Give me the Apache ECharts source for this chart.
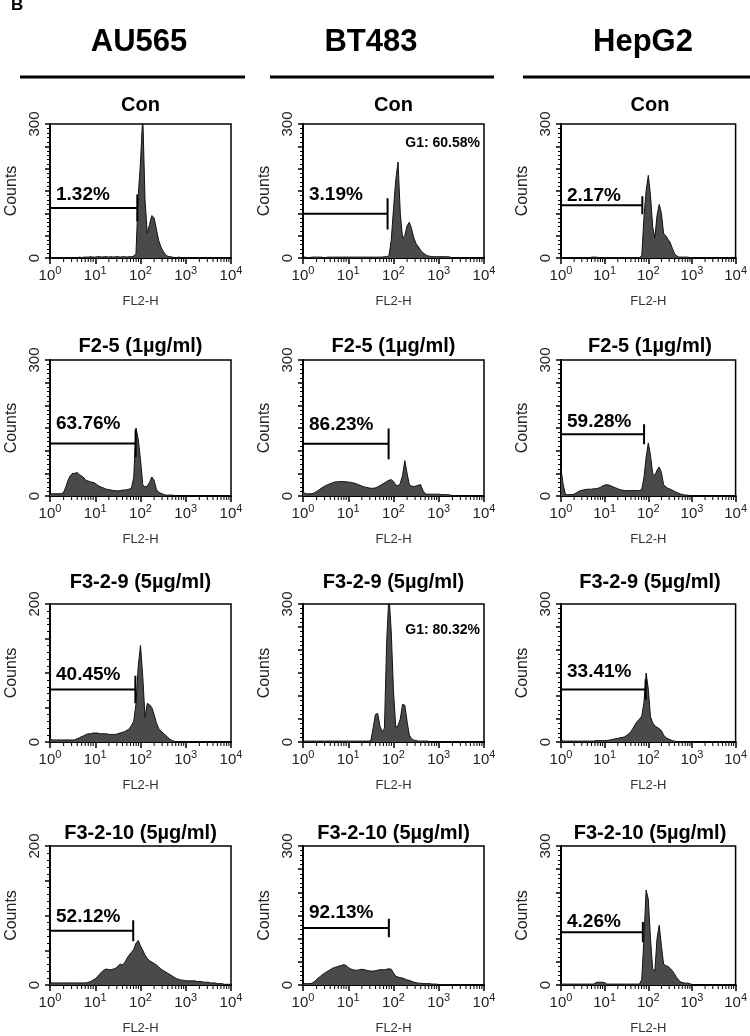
<!DOCTYPE html>
<html><head><meta charset="utf-8">
<script src="https://cdn.jsdelivr.net/npm/echarts@6/dist/echarts.min.js"></script>
<style>html,body{margin:0;padding:0;background:#fff}#c{width:750px;height:1036px}</style>
</head><body><div id="c"></div>
<script>
// ---------- DATA ----------
const cellLines = ['AU565', 'BT483', 'HepG2'];
const treatments = ['Con', 'F2-5 (1µg/ml)', 'F3-2-9 (5µg/ml)', 'F3-2-10 (5µg/ml)'];
const xTickValues = [1, 10, 100, 1000, 10000];
// FL2-H channel centres (log spaced, 20 per decade)
const FL2_BINS = [
  1, 1.122, 1.259, 1.413, 1.585, 1.778, 1.995, 2.239, 2.512, 2.818, 3.162, 3.548, 3.981, 4.467, 5.012, 5.623, 6.31, 7.079, 7.943, 8.913,
  10, 11.22, 12.59, 14.13, 15.85, 17.78, 19.95, 22.39, 25.12, 28.18, 31.62, 35.48, 39.81, 44.67, 50.12, 56.23, 63.1, 70.79, 79.43, 89.13,
  100, 112.2, 125.9, 141.3, 158.5, 177.8, 199.5, 223.9, 251.2, 281.8, 316.2, 354.8, 398.1, 446.7, 501.2, 562.3, 631, 707.9, 794.3, 891.3,
  1000, 1122, 1259, 1413, 1585, 1778, 1995, 2239, 2512, 2818, 3162, 3548, 3981, 4467, 5012, 5623, 6310, 7079, 7943, 8913,
  10000];
// y-axis max per panel (row-major)
const countsMax = [300, 300, 300, 300, 300, 300, 200, 300, 300, 200, 300, 300];

const au565Con = [
  0,0,0,0,0,0,0,0,0,0,0,0,0,2,1,2,2,2,3,2,
  2,3,3,2,3,3,2,3,2,3,3,2,3,3,2,3,3,4,10,140,
  215,320,130,55,75,95,90,65,40,25,15,8,4,3,2,1,1,2,1,0,
  0,0,0,0,0,0,0,0,0,0,0,0,0,0,0,0,0,0,0,0,
  0];
const bt483Con = [
  2,2,1,1,2,2,2,2,2,1,1,2,2,2,2,2,2,2,2,2,
  2,2,2,2,2,2,2,2,2,2,2,2,2,2,2,2,3,3,5,40,
  110,175,215,100,45,50,72,80,65,45,32,25,17,12,8,5,4,3,3,3,
  3,3,3,3,3,2,0,0,0,0,0,0,0,0,0,0,0,0,0,0,
  0];
const hepg2Con = [
  0,0,0,0,0,0,0,0,0,0,0,0,0,0,2,2,2,1,1,1,
  1,1,1,1,1,1,1,1,1,1,1,1,1,1,1,1,1,5,90,150,
  185,140,70,45,95,120,100,55,50,42,35,22,10,5,2,2,2,2,2,1,
  1,0,0,0,0,0,0,0,0,0,0,0,0,0,0,0,0,0,0,0,
  0];
const au565F25 = [
  5,5,5,5,5,5,8,20,35,45,50,50,52,47,44,40,34,33,31,30,
  28,24,21,19,17,15,14,13,12,12,11,12,13,13,14,15,18,40,150,125,
  80,25,20,22,30,42,35,15,8,6,4,2,2,2,2,1,0,0,0,0,
  0,0,0,0,0,0,0,0,0,0,0,0,0,0,0,0,0,0,0,0,
  0];
const bt483F25 = [
  10,5,5,5,5,7,10,13,17,20,23,25,27,29,31,31,32,32,32,31,
  31,30,29,28,26,24,22,20,19,18,17,17,18,20,23,26,29,32,35,36,
  32,24,22,28,45,78,50,25,22,21,22,24,25,12,5,4,4,4,4,4,
  4,3,3,3,3,2,1,1,0,0,0,0,0,0,0,0,0,0,0,0,
  0];
const hepg2F25 = [
  60,25,4,3,3,3,4,7,10,12,13,14,15,15,15,16,16,17,19,22,
  24,25,24,22,20,18,16,14,13,12,12,12,12,12,12,12,12,15,40,85,
  117,90,50,45,57,64,52,25,20,17,15,13,10,8,6,4,3,2,2,1,
  0,0,0,0,0,0,0,0,0,0,0,0,0,0,0,0,0,0,0,0,
  0];
const au565F329 = [
  5,3,3,3,3,3,3,3,3,3,3,3,5,6,8,9,11,12,12,13,
  13,13,12,12,12,12,11,11,11,11,12,13,14,15,17,19,24,30,55,110,
  140,95,36,56,54,50,40,28,20,16,13,10,7,4,2,1,0,0,0,0,
  0,0,0,0,0,0,0,0,0,0,0,0,0,0,0,0,0,0,0,0,
  0];
const bt483F329 = [
  2,2,2,2,2,2,2,2,2,2,2,2,2,2,2,2,2,2,2,2,
  2,2,2,2,2,2,2,2,2,2,3,30,60,62,35,22,30,220,320,240,
  110,32,36,50,82,80,45,15,7,4,3,2,2,2,2,2,1,0,0,0,
  0,0,0,0,0,0,0,0,0,0,0,0,0,0,0,0,0,0,0,0,
  0];
const hepg2F329 = [
  5,2,2,2,2,2,2,2,2,2,2,2,2,2,2,2,3,3,3,3,
  3,3,4,5,6,7,8,9,10,11,14,18,22,30,38,45,50,56,85,150,
  115,55,42,35,32,29,25,15,10,7,5,3,2,1,0,0,0,0,0,0,
  0,0,0,0,0,0,0,0,0,0,0,0,0,0,0,0,0,0,0,0,
  0];
const au565F3210 = [
  3,3,3,3,3,3,3,3,3,3,3,3,3,3,3,3,3,4,5,7,
  9,12,16,19,22,23,22,22,23,24,27,30,29,32,38,43,47,51,60,64,
  56,50,43,38,35,33,31,29,26,23,21,19,17,15,13,11,9,8,7,7,
  6,6,6,6,6,5,5,5,4,4,4,3,3,3,2,2,2,1,1,1,
  1];
const bt483F3210 = [
  3,3,3,3,4,7,12,16,20,24,27,30,33,36,38,39,41,42,44,42,
  38,35,33,32,32,33,34,33,32,31,30,30,31,32,33,33,33,34,35,34,
  26,19,17,16,15,13,11,10,8,6,5,4,4,3,3,3,3,2,2,2,
  1,1,1,1,1,0,0,0,0,0,0,0,0,0,0,0,0,0,0,0,
  0];
const hepg2F3210 = [
  2,2,2,2,2,2,2,2,2,2,2,2,2,2,2,2,5,6,6,6,
  5,2,2,2,2,2,2,2,2,2,2,2,2,2,2,2,2,12,100,205,
  185,100,35,30,100,129,85,45,42,40,36,31,24,16,10,6,5,4,4,3,
  1,0,0,0,0,0,0,0,0,0,0,0,0,0,0,0,0,0,0,0,
  0];

// gate markers (FL2-H end, count level, tick half-heights); null = no gate
const gateEnd      = [85, 74, 73, 78, 78, 80, 77, null, 87, 69, 79, 75];
const gateCount    = [112, 99, 118, 116, 115, 136, 76, null, 114, 78, 123, 114];
const gateTick     = [30, 35, 20, 30, 34, 22, 20, null, 22, 15, 20, 22];
const gateLeftTick = [0, 0, 0, 32, 34, 0, 0, null, 31, 0, 0, 0];
const pctLabels    = ['1.32%', '3.19%', '2.17%', '63.76%', '86.23%', '59.28%', '40.45%', null, '33.41%', '52.12%', '92.13%', '4.26%'];
const pctLabelCount= [141, 142, 140, 159, 157, 163, 98, null, 152, 98, 155, 136];
const g1Labels     = [null, 'G1: 60.58%', null, null, null, null, null, 'G1: 80.32%', null, null, null, null];
const g1LabelCount = [null, 257, null, null, null, null, null, 243, null, null, null, null];

// log minor tick values (2..9 per decade) built from the decade ticks
const xMinorTickValues = [];
for (let d = 0; d < xTickValues.length - 1; d++) {
  for (let m = 2; m <= 9; m++) xMinorTickValues.push(m * xTickValues[d]);
}

// ---------- LAYOUT ----------
const FONT = "'Liberation Sans', Arial, Helvetica, sans-serif";
const colLeft = [50, 303, 561], colWidth = [181, 181, 178];
const rowTop = [124, 360, 604, 846], rowHeight = [134, 136, 138, 139];
const titleY = [105, 346, 582, 833];
const headerX = [139, 371, 643];
const ruleX = [[20, 245], [270, 494], [523, 750]];

const histograms = [au565Con, bt483Con, hepg2Con, au565F25, bt483F25, hepg2F25,
  au565F329, bt483F329, hepg2F329, au565F3210, bt483F3210, hepg2F3210];

const grids = [], xAxes = [], yAxes = [], series = [], graphics = [];

graphics.push({type: 'text', left: 11, top: -3, style: {text: 'B', font: 'bold 17px ' + FONT, fill: '#000'}});
for (let c = 0; c < 3; c++) {
  graphics.push({type: 'text', x: headerX[c], y: 42, style: {text: cellLines[c], font: 'bold 31px ' + FONT, fill: '#000', align: 'center', verticalAlign: 'middle'}});
  graphics.push({type: 'line', shape: {x1: ruleX[c][0], y1: 77, x2: ruleX[c][1], y2: 77}, style: {stroke: '#000', lineWidth: 3}});
}

for (let r = 0; r < 4; r++) {
  for (let c = 0; c < 3; c++) {
    const i = r * 3 + c;
    const maxC = countsMax[i];
    grids.push({left: colLeft[c], top: rowTop[r], width: colWidth[c], height: rowHeight[r],
      show: true, borderColor: '#000', borderWidth: 1.5, containLabel: false});
    graphics.push({type: 'text', x: colLeft[c] + colWidth[c] / 2, y: titleY[r],
      style: {text: treatments[r], font: 'bold 20px ' + FONT, fill: '#000', align: 'center', verticalAlign: 'middle'}});
    xAxes.push({
      gridIndex: i, type: 'log', logBase: 10, min: xTickValues[0], max: xTickValues[xTickValues.length - 1],
      axisLine: {show: true, onZero: false, lineStyle: {color: '#000', width: 2}},
      axisTick: {show: true, length: 6, lineStyle: {color: '#000', width: 1.5}},
      minorTick: {show: false},
      splitLine: {show: false}, minorSplitLine: {show: false},
      axisLabel: {
        margin: 7,
        formatter: v => '{b|10}{s|' + Math.round(Math.log10(v)) + '}',
        rich: {
          b: {fontSize: 15, fontFamily: FONT, color: '#222', verticalAlign: 'bottom'},
          s: {fontSize: 11, fontFamily: FONT, color: '#222', verticalAlign: 'top', padding: [0, 0, 7, 0]}
        }
      },
      name: 'FL2-H', nameLocation: 'middle', nameGap: 37,
      nameTextStyle: {fontSize: 13, fontFamily: FONT, color: '#333'}
    });
    yAxes.push({
      gridIndex: i, type: 'value', min: 0, max: maxC, interval: 50,
      axisLine: {show: true, lineStyle: {color: '#000', width: 2}},
      axisTick: {show: true, length: 5, lineStyle: {color: '#000', width: 1.5}},
      minorTick: {show: true, splitNumber: 5, length: 3, lineStyle: {color: '#000', width: 1}},
      splitLine: {show: false}, minorSplitLine: {show: false},
      axisLabel: {rotate: 90, margin: 8, fontSize: 15, fontFamily: FONT, color: '#222',
        formatter: v => (v === 0 || v === maxC) ? String(v) : ''},
      name: 'Counts', nameLocation: 'middle', nameRotate: 90, nameGap: 30,
      nameTextStyle: {fontSize: 16, fontFamily: FONT, color: '#222'}
    });
    const hist = histograms[i].map((v, k) => [FL2_BINS[k], v]);
    series.push({
      type: 'line', xAxisIndex: i, yAxisIndex: i, data: hist, symbol: 'none', silent: true,
      clip: true, lineStyle: {color: '#111', width: 1}, areaStyle: {color: '#4a4a4a', opacity: 1}, z: 2
    });
    // log minor ticks on the FL2-H axis, positioned by the axis scale
    series.push({
      type: 'custom', xAxisIndex: i, yAxisIndex: i, silent: true, clip: false, z: 5,
      data: xMinorTickValues.map(v => [v, 0]),
      renderItem: (params, api) => {
        const p = api.coord([api.value(0), api.value(1)]);
        return {type: 'line', shape: {x1: p[0], y1: p[1] + 1, x2: p[0], y2: p[1] + 4},
          style: {stroke: '#000', lineWidth: 1}};
      }
    });
    if (gateEnd[i] !== null) {
      const gy = gateCount[i], ge = gateEnd[i], t = gateTick[i], lt = gateLeftTick[i];
      const g = [];
      if (lt) { g.push([xTickValues[0], gy + lt], [xTickValues[0], gy - lt]); }
      g.push([xTickValues[0], gy], [ge, gy], [ge, gy + t], [ge, gy - t]);
      series.push({type: 'line', xAxisIndex: i, yAxisIndex: i, data: g, symbol: 'none', silent: true,
        lineStyle: {color: '#000', width: 2}, z: 3});
    }
    if (pctLabels[i] !== null) {
      series.push({type: 'scatter', xAxisIndex: i, yAxisIndex: i, symbolSize: 0, silent: true, z: 4,
        itemStyle: {opacity: 1},
        data: [[xTickValues[0], pctLabelCount[i]]],
        label: {show: true, position: 'right', distance: 6, formatter: pctLabels[i], opacity: 1,
          fontSize: 19, fontWeight: 'bold', fontFamily: FONT, color: '#000'}});
    }
    if (g1Labels[i] !== null) {
      series.push({type: 'scatter', xAxisIndex: i, yAxisIndex: i, symbolSize: 0, silent: true, z: 4,
        itemStyle: {opacity: 1},
        data: [[xTickValues[xTickValues.length - 1], g1LabelCount[i]]],
        label: {show: true, position: 'left', distance: 4, formatter: g1Labels[i], opacity: 1,
          fontSize: 14, fontWeight: 'bold', fontFamily: FONT, color: '#000'}});
    }
  }
}

const chart = echarts.init(document.getElementById('c'), null, {renderer: 'canvas'});
chart.setOption({
  animation: false, backgroundColor: '#fff',
  grid: grids, xAxis: xAxes, yAxis: yAxes, series: series, graphic: graphics
});
</script></body></html>
